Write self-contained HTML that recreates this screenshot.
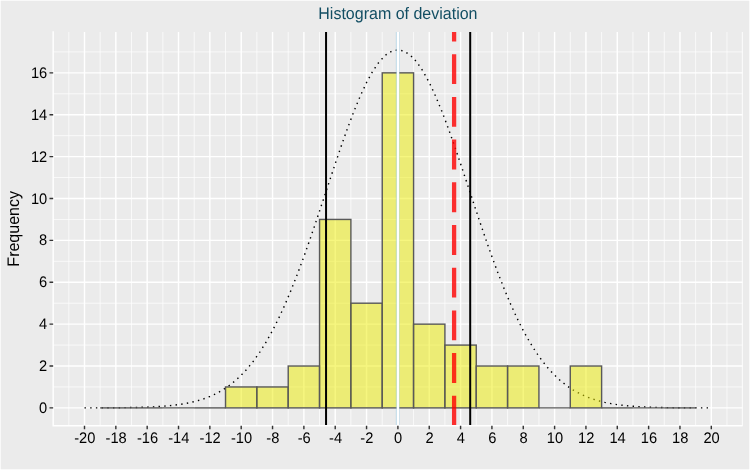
<!DOCTYPE html>
<html><head><meta charset="utf-8"><title>Histogram of deviation</title>
<style>html,body{margin:0;padding:0;background:#fff;}svg{display:block;will-change:transform;}text{text-rendering:geometricPrecision;}</style>
</head><body>
<svg width="750" height="470" viewBox="0 0 750 470"><rect x="0" y="0" width="750" height="470" fill="#ffffff"/>
<rect x="0" y="0" width="750" height="470" fill="#EBEBEB" stroke="#ffffff" stroke-width="1.42"/>
<path d="M68.83 32.00V425.70M100.17 32.00V425.70M131.51 32.00V425.70M162.85 32.00V425.70M194.19 32.00V425.70M225.53 32.00V425.70M256.87 32.00V425.70M288.21 32.00V425.70M319.55 32.00V425.70M350.89 32.00V425.70M382.23 32.00V425.70M413.57 32.00V425.70M444.91 32.00V425.70M476.25 32.00V425.70M507.59 32.00V425.70M538.93 32.00V425.70M570.27 32.00V425.70M601.61 32.00V425.70M632.95 32.00V425.70M664.29 32.00V425.70M695.63 32.00V425.70M726.97 32.00V425.70M53.16 386.96H742.64M53.16 345.08H742.64M53.16 303.20H742.64M53.16 261.32H742.64M53.16 219.44H742.64M53.16 177.56H742.64M53.16 135.68H742.64M53.16 93.80H742.64M53.16 51.92H742.64" stroke="#ffffff" stroke-width="0.71" fill="none"/>
<path d="M742.34 32.00V425.70" stroke="#ffffff" stroke-width="0.9" fill="none"/>
<path d="M84.50 32.00V425.70M115.84 32.00V425.70M147.18 32.00V425.70M178.52 32.00V425.70M209.86 32.00V425.70M241.20 32.00V425.70M272.54 32.00V425.70M303.88 32.00V425.70M335.22 32.00V425.70M366.56 32.00V425.70M397.90 32.00V425.70M429.24 32.00V425.70M460.58 32.00V425.70M491.92 32.00V425.70M523.26 32.00V425.70M554.60 32.00V425.70M585.94 32.00V425.70M617.28 32.00V425.70M648.62 32.00V425.70M679.96 32.00V425.70M711.30 32.00V425.70M53.16 407.90H742.64M53.16 366.02H742.64M53.16 324.14H742.64M53.16 282.26H742.64M53.16 240.38H742.64M53.16 198.50H742.64M53.16 156.62H742.64M53.16 114.74H742.64M53.16 72.86H742.64" stroke="#ffffff" stroke-width="1.42" fill="none"/>
<polyline points="84.50,407.88 90.77,407.86 97.04,407.85 103.30,407.82 109.57,407.79 115.84,407.75 122.11,407.68 128.38,407.60 134.64,407.48 140.91,407.33 147.18,407.12 153.45,406.84 159.72,406.48 165.98,406.01 172.25,405.40 178.52,404.62 184.79,403.63 191.06,402.37 197.32,400.81 203.59,398.88 209.86,396.50 216.13,393.61 222.40,390.13 228.66,385.96 234.93,381.02 241.20,375.22 247.47,368.48 253.74,360.70 260.00,351.82 266.27,341.78 272.54,330.54 278.81,318.07 285.08,304.39 291.34,289.54 297.61,273.59 303.88,256.66 310.15,238.89 316.42,220.47 322.68,201.64 328.95,182.64 335.22,163.77 341.49,145.34 347.76,127.68 354.02,111.10 360.29,95.95 366.56,82.53 372.83,71.11 379.10,61.96 385.36,55.27 391.63,51.19 397.90,49.83 404.17,51.19 410.44,55.27 416.70,61.96 422.97,71.11 429.24,82.53 435.51,95.95 441.78,111.10 448.04,127.68 454.31,145.34 460.58,163.77 466.85,182.64 473.12,201.64 479.38,220.47 485.65,238.89 491.92,256.66 498.19,273.59 504.46,289.54 510.72,304.39 516.99,318.07 523.26,330.54 529.53,341.78 535.80,351.82 542.06,360.70 548.33,368.48 554.60,375.22 560.87,381.02 567.14,385.96 573.40,390.13 579.67,393.61 585.94,396.50 592.21,398.88 598.48,400.81 604.74,402.37 611.01,403.63 617.28,404.62 623.55,405.40 629.82,406.01 636.08,406.48 642.35,406.84 648.62,407.12 654.89,407.33 661.16,407.48 667.42,407.60 673.69,407.68 679.96,407.75 686.23,407.79 692.50,407.82 698.76,407.85 705.03,407.86 711.30,407.88" fill="none" stroke="#000" stroke-width="1.42" stroke-dasharray="1.42 4.277"/>
<path d="M100.17 407.90H131.51" stroke="#595959" stroke-width="1.42"/>
<path d="M131.51 407.90H162.85" stroke="#595959" stroke-width="1.42"/>
<path d="M162.85 407.90H194.19" stroke="#595959" stroke-width="1.42"/>
<path d="M194.19 407.90H225.53" stroke="#595959" stroke-width="1.42"/>
<rect x="225.53" y="386.96" width="31.34" height="20.94" fill="#EEEE00" fill-opacity="0.5" stroke="#595959" stroke-width="1.42"/>
<rect x="256.87" y="386.96" width="31.34" height="20.94" fill="#EEEE00" fill-opacity="0.5" stroke="#595959" stroke-width="1.42"/>
<rect x="288.21" y="366.02" width="31.34" height="41.88" fill="#EEEE00" fill-opacity="0.5" stroke="#595959" stroke-width="1.42"/>
<rect x="319.55" y="219.44" width="31.34" height="188.46" fill="#EEEE00" fill-opacity="0.5" stroke="#595959" stroke-width="1.42"/>
<rect x="350.89" y="303.20" width="31.34" height="104.70" fill="#EEEE00" fill-opacity="0.5" stroke="#595959" stroke-width="1.42"/>
<rect x="382.23" y="72.86" width="31.34" height="335.04" fill="#EEEE00" fill-opacity="0.5" stroke="#595959" stroke-width="1.42"/>
<rect x="413.57" y="324.14" width="31.34" height="83.76" fill="#EEEE00" fill-opacity="0.5" stroke="#595959" stroke-width="1.42"/>
<rect x="444.91" y="345.08" width="31.34" height="62.82" fill="#EEEE00" fill-opacity="0.5" stroke="#595959" stroke-width="1.42"/>
<rect x="476.25" y="366.02" width="31.34" height="41.88" fill="#EEEE00" fill-opacity="0.5" stroke="#595959" stroke-width="1.42"/>
<rect x="507.59" y="366.02" width="31.34" height="41.88" fill="#EEEE00" fill-opacity="0.5" stroke="#595959" stroke-width="1.42"/>
<path d="M538.93 407.90H570.27" stroke="#595959" stroke-width="1.42"/>
<rect x="570.27" y="366.02" width="31.34" height="41.88" fill="#EEEE00" fill-opacity="0.5" stroke="#595959" stroke-width="1.42"/>
<path d="M601.61 407.90H632.95" stroke="#595959" stroke-width="1.42"/>
<path d="M632.95 407.90H664.29" stroke="#595959" stroke-width="1.42"/>
<path d="M664.29 407.90H695.63" stroke="#595959" stroke-width="1.42"/>
<path d="M397.75 32.0V425.7" stroke="#8CC8E6" stroke-opacity="0.5" stroke-width="3.8"/>
<path d="M397.95 32.0V425.7" stroke="#ffffff" stroke-width="2.3"/>
<path d="M326.05 32.0V425.7" stroke="#000" stroke-width="2.0"/>
<path d="M470.2 32.0V425.7" stroke="#000" stroke-width="2.0"/>
<path d="M454.1 425.7V32.0" stroke="#FF0000" stroke-opacity="0.8" stroke-width="4.27" stroke-dasharray="29.9 12.8"/>
<path d="M53.16 31.30V425.70H742.64" stroke="#ffffff" stroke-width="1.42" fill="none"/>
<path d="M84.50 425.70V429.37M115.84 425.70V429.37M147.18 425.70V429.37M178.52 425.70V429.37M209.86 425.70V429.37M241.20 425.70V429.37M272.54 425.70V429.37M303.88 425.70V429.37M335.22 425.70V429.37M366.56 425.70V429.37M397.90 425.70V429.37M429.24 425.70V429.37M460.58 425.70V429.37M491.92 425.70V429.37M523.26 425.70V429.37M554.60 425.70V429.37M585.94 425.70V429.37M617.28 425.70V429.37M648.62 425.70V429.37M679.96 425.70V429.37M711.30 425.70V429.37M49.49 407.90H53.16M49.49 366.02H53.16M49.49 324.14H53.16M49.49 282.26H53.16M49.49 240.38H53.16M49.49 198.50H53.16M49.49 156.62H53.16M49.49 114.74H53.16M49.49 72.86H53.16" stroke="#333333" stroke-width="1.42" fill="none"/>
<g font-family="Liberation Sans, Arial, sans-serif" font-size="14.67" fill="#000">
<text transform="matrix(1 0 0 1.045 84.80 442.60)" text-anchor="middle">-20</text>
<text transform="matrix(1 0 0 1.045 116.14 442.60)" text-anchor="middle">-18</text>
<text transform="matrix(1 0 0 1.045 147.48 442.60)" text-anchor="middle">-16</text>
<text transform="matrix(1 0 0 1.045 178.82 442.60)" text-anchor="middle">-14</text>
<text transform="matrix(1 0 0 1.045 210.16 442.60)" text-anchor="middle">-12</text>
<text transform="matrix(1 0 0 1.045 241.50 442.60)" text-anchor="middle">-10</text>
<text transform="matrix(1 0 0 1.045 272.84 442.60)" text-anchor="middle">-8</text>
<text transform="matrix(1 0 0 1.045 304.18 442.60)" text-anchor="middle">-6</text>
<text transform="matrix(1 0 0 1.045 335.52 442.60)" text-anchor="middle">-4</text>
<text transform="matrix(1 0 0 1.045 366.86 442.60)" text-anchor="middle">-2</text>
<text transform="matrix(1 0 0 1.045 398.20 442.60)" text-anchor="middle">0</text>
<text transform="matrix(1 0 0 1.045 429.54 442.60)" text-anchor="middle">2</text>
<text transform="matrix(1 0 0 1.045 460.88 442.60)" text-anchor="middle">4</text>
<text transform="matrix(1 0 0 1.045 492.22 442.60)" text-anchor="middle">6</text>
<text transform="matrix(1 0 0 1.045 523.56 442.60)" text-anchor="middle">8</text>
<text transform="matrix(1 0 0 1.045 554.90 442.60)" text-anchor="middle">10</text>
<text transform="matrix(1 0 0 1.045 586.24 442.60)" text-anchor="middle">12</text>
<text transform="matrix(1 0 0 1.045 617.58 442.60)" text-anchor="middle">14</text>
<text transform="matrix(1 0 0 1.045 648.92 442.60)" text-anchor="middle">16</text>
<text transform="matrix(1 0 0 1.045 680.26 442.60)" text-anchor="middle">18</text>
<text transform="matrix(1 0 0 1.045 711.60 442.60)" text-anchor="middle">20</text>
<text transform="matrix(1 0 0 1.045 47.20 412.95)" text-anchor="end">0</text>
<text transform="matrix(1 0 0 1.045 47.20 371.07)" text-anchor="end">2</text>
<text transform="matrix(1 0 0 1.045 47.20 329.19)" text-anchor="end">4</text>
<text transform="matrix(1 0 0 1.045 47.20 287.31)" text-anchor="end">6</text>
<text transform="matrix(1 0 0 1.045 47.20 245.43)" text-anchor="end">8</text>
<text transform="matrix(1 0 0 1.045 47.20 203.55)" text-anchor="end">10</text>
<text transform="matrix(1 0 0 1.045 47.20 161.67)" text-anchor="end">12</text>
<text transform="matrix(1 0 0 1.045 47.20 119.79)" text-anchor="end">14</text>
<text transform="matrix(1 0 0 1.045 47.20 77.91)" text-anchor="end">16</text>
</g>
<text transform="matrix(1 0 0 1.045 397.90 18.9)" text-anchor="middle" font-family="Liberation Sans, Arial, sans-serif" font-size="16" fill="#124E63">Histogram of deviation</text>
<text transform="translate(18.55 228.85) rotate(-90) scale(1 1.045)" text-anchor="middle" font-family="Liberation Sans, Arial, sans-serif" font-size="16" fill="#000">Frequency</text></svg>
</body></html>
